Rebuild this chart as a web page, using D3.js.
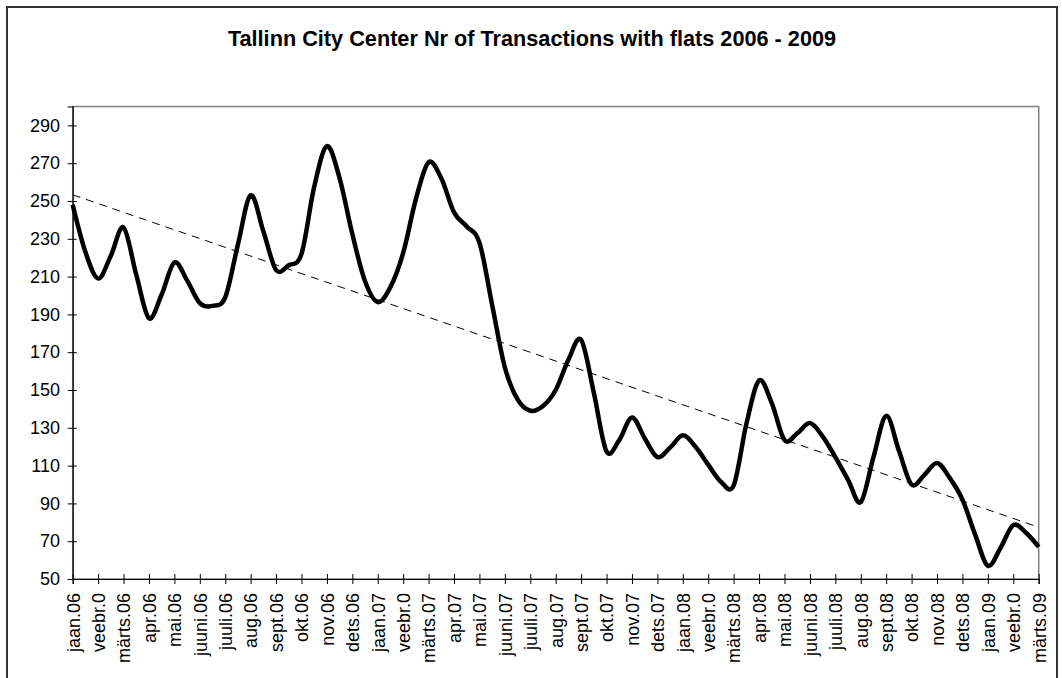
<!DOCTYPE html>
<html>
<head>
<meta charset="utf-8">
<script src="https://cdn.jsdelivr.net/npm/d3@7"></script>
<style>
    body { margin: 0; background: #fff; }
    svg text { font-family: "Liberation Sans", Arial, sans-serif; }
</style>
</head>
<body>
<svg id="chart"></svg>
<script>
const title = "Tallinn City Center Nr of Transactions with flats 2006 - 2009";

// month labels, one per tick
const months = [
    "jaan.06", "veebr.0", "märts.06", "apr.06", "mai.06", "juuni.06", "juuli.06", "aug.06", "sept.06", "okt.06", "nov.06", "dets.06",
    "jaan.07", "veebr.0", "märts.07", "apr.07", "mai.07", "juuni.07", "juuli.07", "aug.07", "sept.07", "okt.07", "nov.07", "dets.07",
    "jaan.08", "veebr.0", "märts.08", "apr.08", "mai.08", "juuni.08", "juuli.08", "aug.08", "sept.08", "okt.08", "nov.08", "dets.08",
    "jaan.09", "veebr.0", "märts.09"
];

// transactions, every half month
const transactions = [
    248, 223, 209, 221, 236, 211, 188, 200.5, 217.5, 208,
    196, 194.5, 199, 227, 253, 234, 213.5, 216, 222, 257.5,
    279, 262, 232.5, 207.5, 196.5, 204.5, 222.5, 251, 270.5, 262,
    244, 236.5, 228, 195, 162, 145, 139, 141.5, 150, 166,
    176.5, 148.5, 117.5, 123.5, 135.5, 124.5, 114.5, 119.5, 126, 120,
    110.5, 101.5, 99.5, 132, 155, 143, 123.5, 127, 132.5, 125.5,
    114.5, 102.5, 90.7, 114.5, 136.3, 118, 100, 105, 111.4, 103.5,
    92, 73.5, 57, 66.5, 78.5, 74.5, 67
];

const yTicks = [50, 70, 90, 110, 130, 150, 170, 190, 210, 230, 250, 270, 290];

const width = 1062;
const height = 678;
const margin = { top: 106.5, right: 23.3, bottom: 99, left: 72.7 };

const data = transactions.map((v, i) => ({ t: i / 2, v: v }));

const svg = d3.select("#chart")
    .attr("width", width)
    .attr("height", height);

// outer chart frame
svg.append("rect")
    .attr("x", 7)
    .attr("y", 7)
    .attr("width", 1050)
    .attr("height", 720)
    .attr("fill", "none")
    .attr("stroke", "#333")
    .attr("stroke-width", 2);

svg.append("text")
    .attr("x", 532)
    .attr("y", 46)
    .attr("text-anchor", "middle")
    .attr("font-size", 21.7)
    .attr("font-weight", "bold")
    .text(title);

const xScale = d3.scaleLinear()
    .domain([0, months.length - 1])
    .range([margin.left, width - margin.right]);

const yScale = d3.scaleLinear()
    .domain([50, 300])
    .range([height - margin.bottom, margin.top]);

// plot area box
svg.append("rect")
    .attr("x", margin.left)
    .attr("y", margin.top)
    .attr("width", width - margin.right - margin.left)
    .attr("height", height - margin.bottom - margin.top)
    .attr("fill", "none")
    .attr("stroke", "#808080")
    .attr("stroke-width", 1.5);

const yAxis = svg.append("g")
    .attr("transform", `translate(${margin.left}, 0)`)
    .call(d3.axisLeft(yScale).tickValues(yTicks).tickSize(5).tickPadding(7.7));
yAxis.selectAll(".tick line").attr("x2", -5).attr("x1", 4);

const xAxis = svg.append("g")
    .attr("transform", `translate(0, ${height - margin.bottom})`)
    .call(d3.axisBottom(xScale)
        .tickValues(d3.range(months.length))
        .tickFormat(i => months[i])
        .tickSize(5));
xAxis.selectAll(".tick line").attr("y1", -5).attr("y2", 5);
xAxis.selectAll(".tick text")
    .attr("transform", "rotate(-90)")
    .attr("text-anchor", "end")
    .attr("x", -14)
    .attr("y", 0)
    .attr("dy", "0.35em");

svg.selectAll(".domain").attr("stroke", "#000").attr("stroke-width", 1.2);
svg.selectAll(".tick line").attr("stroke", "#000").attr("stroke-width", 1);
svg.selectAll(".tick text")
    .attr("font-size", 18)
    .attr("fill", "#000")
    .attr("font-family", "'Liberation Sans', Arial, sans-serif");

// linear trend line (least squares over the series)
const mx = d3.mean(data, d => d.t);
const my = d3.mean(data, d => d.v);
const slope = d3.sum(data, d => (d.t - mx) * (d.v - my)) / d3.sum(data, d => (d.t - mx) ** 2);
const intercept = my - slope * mx;
const t0 = 0, t1 = months.length - 1;

svg.append("line")
    .attr("x1", xScale(t0))
    .attr("y1", yScale(intercept + slope * t0))
    .attr("x2", xScale(t1))
    .attr("y2", yScale(intercept + slope * t1))
    .attr("stroke", "#000")
    .attr("stroke-width", 1)
    .attr("stroke-dasharray", "8,6");

const line = d3.line()
    .x(d => xScale(d.t))
    .y(d => yScale(d.v))
    .curve(d3.curveCardinal.tension(0));

svg.append("path")
    .datum(data)
    .attr("d", line)
    .attr("fill", "none")
    .attr("stroke", "#000")
    .attr("stroke-width", 4.5)
    .attr("stroke-linejoin", "round");
</script>
</body>
</html>
